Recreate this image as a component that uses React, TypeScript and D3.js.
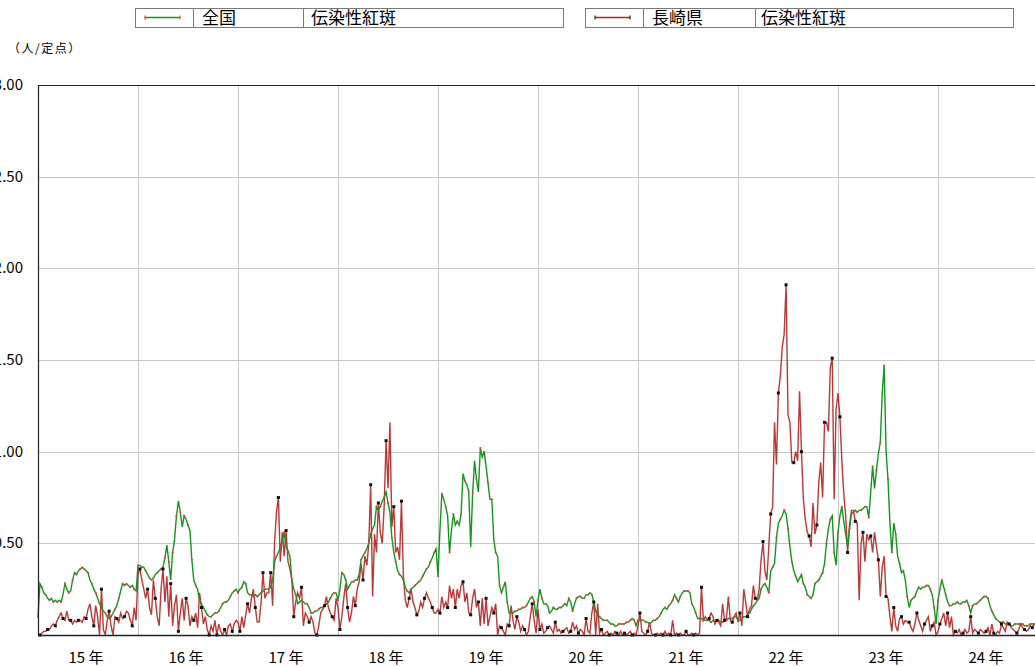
import React from "react";
import * as d3 from "d3";

// ---- Data (weekly, 52 weeks per year) ----
const years = ["15", "16", "17", "18", "19", "20", "21", "22", "23", "24"];
const yTicks = [0.5, 1.0, 1.5, 2.0, 2.5, 3.0];

const national2015 = [0.10,0.28,0.26,0.23,0.22,0.20,0.19,0.20,0.18,0.19,0.18,0.19,0.18,0.22,0.28,0.25,0.23,0.24,0.30,0.34,0.33,0.35,0.36,0.37,0.36,0.35,0.34,0.30,0.28,0.25,0.23,0.20,0.17,0.15,0.13,0.12,0.10,0.09,0.10,0.12,0.14,0.16,0.20,0.24,0.28,0.27,0.28,0.27,0.26,0.27,0.25,0.24];
const national2016 = [0.38,0.38,0.37,0.37,0.35,0.33,0.31,0.30,0.31,0.33,0.34,0.35,0.36,0.37,0.42,0.49,0.40,0.30,0.45,0.52,0.65,0.73,0.67,0.59,0.65,0.63,0.60,0.57,0.41,0.30,0.27,0.25,0.19,0.17,0.15,0.13,0.11,0.10,0.10,0.11,0.12,0.12,0.13,0.15,0.17,0.18,0.18,0.19,0.21,0.23,0.24,0.25];
const national2017 = [0.23,0.25,0.26,0.29,0.28,0.23,0.22,0.22,0.21,0.22,0.21,0.22,0.23,0.24,0.25,0.25,0.25,0.26,0.30,0.40,0.43,0.45,0.48,0.51,0.56,0.48,0.46,0.43,0.30,0.25,0.22,0.17,0.18,0.19,0.18,0.17,0.17,0.15,0.12,0.12,0.13,0.13,0.14,0.15,0.15,0.16,0.17,0.18,0.20,0.22,0.23,0.23];
const national2018 = [0.19,0.25,0.34,0.33,0.30,0.25,0.27,0.29,0.29,0.30,0.30,0.33,0.41,0.43,0.45,0.47,0.50,0.55,0.58,0.60,0.70,0.68,0.70,0.73,0.75,0.78,0.72,0.67,0.53,0.45,0.40,0.35,0.33,0.32,0.30,0.26,0.24,0.23,0.25,0.26,0.27,0.28,0.29,0.30,0.32,0.34,0.36,0.37,0.40,0.42,0.45,0.47];
const national2019 = [0.32,0.57,0.77,0.74,0.70,0.65,0.45,0.57,0.66,0.60,0.62,0.60,0.66,0.88,0.84,0.82,0.78,0.48,0.77,0.95,0.85,0.78,1.02,0.97,1.00,0.92,0.83,0.74,0.74,0.52,0.45,0.43,0.27,0.23,0.26,0.29,0.18,0.12,0.12,0.12,0.13,0.13,0.14,0.14,0.15,0.15,0.16,0.18,0.20,0.21,0.18,0.10];
const national2020 = [0.19,0.25,0.20,0.17,0.17,0.16,0.12,0.13,0.15,0.14,0.14,0.15,0.15,0.16,0.17,0.16,0.20,0.18,0.13,0.17,0.20,0.21,0.21,0.20,0.20,0.22,0.22,0.23,0.22,0.18,0.13,0.11,0.10,0.09,0.08,0.08,0.08,0.07,0.06,0.06,0.05,0.05,0.06,0.06,0.06,0.06,0.07,0.07,0.08,0.09,0.08,0.05];
const national2021 = [0.08,0.08,0.08,0.08,0.07,0.07,0.06,0.07,0.08,0.08,0.09,0.10,0.12,0.14,0.15,0.14,0.16,0.17,0.19,0.22,0.20,0.18,0.21,0.23,0.24,0.24,0.24,0.23,0.17,0.15,0.12,0.09,0.09,0.09,0.08,0.08,0.08,0.08,0.07,0.08,0.07,0.08,0.08,0.07,0.07,0.08,0.08,0.09,0.09,0.09,0.10,0.10];
const national2022 = [0.08,0.08,0.09,0.10,0.10,0.11,0.12,0.14,0.16,0.17,0.19,0.20,0.25,0.27,0.28,0.26,0.23,0.35,0.37,0.39,0.53,0.61,0.63,0.65,0.68,0.66,0.58,0.48,0.40,0.35,0.32,0.29,0.31,0.33,0.28,0.26,0.22,0.21,0.20,0.22,0.28,0.29,0.30,0.32,0.34,0.39,0.50,0.58,0.63,0.65,0.45,0.38];
const national2023 = [0.56,0.65,0.70,0.62,0.55,0.48,0.58,0.66,0.67,0.68,0.67,0.68,0.68,0.69,0.70,0.70,0.64,0.78,0.92,0.80,0.90,0.99,1.05,1.32,1.47,1.00,0.85,0.61,0.45,0.61,0.55,0.43,0.39,0.34,0.35,0.30,0.21,0.15,0.19,0.20,0.21,0.24,0.26,0.25,0.26,0.26,0.27,0.27,0.25,0.22,0.15,0.06];
const national2024 = [0.19,0.25,0.30,0.26,0.22,0.18,0.16,0.16,0.17,0.17,0.18,0.17,0.17,0.18,0.18,0.19,0.16,0.12,0.16,0.17,0.17,0.18,0.19,0.20,0.21,0.21,0.20,0.16,0.13,0.11,0.09,0.08,0.07,0.07,0.07,0.06,0.06,0.06,0.05,0.05,0.06,0.06,0.06,0.06,0.06,0.05,0.05,0.05,0.06,0.06,0.06,0.06];

const nagasaki2015 = [0.00,0.00,0.01,0.02,0.02,0.03,0.03,0.05,0.06,0.05,0.08,0.10,0.12,0.09,0.08,0.13,0.08,0.08,0.06,0.08,0.07,0.08,0.08,0.07,0.10,0.09,0.14,0.17,0.10,0.05,0.16,0.10,0.00,0.25,0.03,0.00,0.08,0.13,0.05,0.00,0.10,0.09,0.07,0.12,0.09,0.10,0.13,0.12,0.08,0.05,0.15,0.08];
const nagasaki2016 = [0.33,0.36,0.30,0.25,0.20,0.25,0.15,0.11,0.30,0.20,0.10,0.05,0.25,0.36,0.18,0.32,0.10,0.28,0.05,0.16,0.22,0.02,0.12,0.20,0.08,0.20,0.16,0.05,0.10,0.08,0.12,0.04,0.23,0.15,0.06,0.10,0.03,0.00,0.05,0.02,0.08,0.00,0.06,0.02,0.00,0.03,0.00,0.05,0.06,0.02,0.06,0.08];
const nagasaki2017 = [0.07,0.02,0.10,0.04,0.11,0.17,0.12,0.20,0.25,0.15,0.07,0.07,0.18,0.34,0.20,0.23,0.23,0.34,0.16,0.50,0.67,0.75,0.40,0.56,0.43,0.57,0.40,0.36,0.30,0.10,0.18,0.23,0.20,0.26,0.05,0.12,0.10,0.07,0.10,0.07,0.01,0.00,0.05,0.12,0.14,0.16,0.21,0.15,0.12,0.10,0.08,0.20];
const nagasaki2018 = [0.15,0.03,0.10,0.20,0.28,0.15,0.07,0.12,0.21,0.16,0.25,0.29,0.39,0.30,0.43,0.38,0.50,0.82,0.21,0.55,0.45,0.72,0.56,0.50,0.70,1.06,0.80,1.16,0.59,0.70,0.45,0.48,0.41,0.73,0.32,0.19,0.15,0.20,0.25,0.18,0.15,0.11,0.13,0.18,0.15,0.20,0.23,0.20,0.18,0.15,0.12,0.12];
const nagasaki2019 = [0.14,0.12,0.21,0.15,0.18,0.15,0.27,0.20,0.25,0.15,0.25,0.20,0.27,0.29,0.18,0.23,0.12,0.11,0.20,0.25,0.15,0.18,0.05,0.20,0.06,0.20,0.05,0.10,0.15,0.12,0.17,0.00,0.05,0.04,0.02,0.00,0.06,0.05,0.16,0.08,0.03,0.10,0.07,0.02,0.05,0.03,0.00,0.02,0.10,0.17,0.08,0.01];
const nagasaki2020 = [0.14,0.03,0.06,0.01,0.02,0.04,0.05,0.03,0.01,0.07,0.02,0.03,0.01,0.02,0.03,0.04,0.01,0.02,0.07,0.03,0.05,0.01,0.03,0.02,0.00,0.09,0.02,0.01,0.12,0.18,0.00,0.17,0.01,0.03,0.00,0.01,0.02,0.00,0.01,0.00,0.02,0.01,0.00,0.02,0.00,0.01,0.00,0.01,0.02,0.00,0.01,0.00];
const nagasaki2021 = [0.05,0.12,0.02,0.01,0.00,0.02,0.07,0.01,0.00,0.00,0.01,0.00,0.01,0.00,0.02,0.00,0.01,0.00,0.08,0.00,0.01,0.00,0.01,0.00,0.00,0.02,0.00,0.00,0.01,0.00,0.01,0.00,0.01,0.26,0.08,0.10,0.08,0.09,0.12,0.10,0.06,0.08,0.07,0.05,0.17,0.08,0.09,0.21,0.08,0.07,0.10,0.12];
const nagasaki2022 = [0.07,0.12,0.05,0.25,0.18,0.10,0.14,0.16,0.27,0.20,0.19,0.25,0.41,0.51,0.35,0.30,0.48,0.66,0.70,1.16,0.93,1.32,1.41,1.57,1.64,1.91,1.20,1.16,0.94,0.94,1.00,0.95,1.33,1.00,0.74,0.63,0.56,0.54,0.48,0.72,0.55,0.60,0.83,0.94,0.75,1.16,1.16,1.11,1.46,1.51,0.74,1.23];
const nagasaki2023 = [1.32,1.19,0.95,0.77,0.65,0.45,0.60,0.68,0.68,0.62,0.61,0.19,0.50,0.56,0.40,0.55,0.52,0.54,0.45,0.56,0.48,0.41,0.21,0.37,0.43,0.21,0.20,0.10,0.02,0.15,0.05,0.02,0.09,0.10,0.06,0.08,0.07,0.07,0.04,0.02,0.06,0.12,0.08,0.05,0.02,0.06,0.08,0.10,0.02,0.05,0.07,0.00];
const nagasaki2024 = [0.02,0.06,0.09,0.12,0.05,0.12,0.04,0.10,0.00,0.02,0.01,0.03,0.00,0.01,0.03,0.01,0.02,0.10,0.01,0.03,0.02,0.01,0.03,0.02,0.01,0.02,0.04,0.00,0.06,0.01,0.00,0.02,0.01,0.06,0.04,0.02,0.07,0.06,0.04,0.03,0.02,0.01,0.03,0.06,0.04,0.03,0.02,0.03,0.05,0.04,0.06,0.05];

const national = [national2015, national2016, national2017, national2018, national2019, national2020, national2021, national2022, national2023, national2024].flat();
const nagasaki = [nagasaki2015, nagasaki2016, nagasaki2017, nagasaki2018, nagasaki2019, nagasaki2020, nagasaki2021, nagasaki2022, nagasaki2023, nagasaki2024].flat();

const WEEKS = 52;
const W = 1035, H = 667;
const L = 38, R = 1038, T = 85, B = 635;

const GREEN = "#14961e";
const RED = "#b02424";
const JP = "'Noto Sans CJK JP', 'Noto Sans', sans-serif";

export default function App() {
  const x = d3.scaleLinear().domain([0, years.length * WEEKS]).range([L, R]);
  const y = d3.scaleLinear().domain([0, 3]).range([B, T]);
  const line = d3.line<number>().x((_, i) => x(i)).y((d) => y(d));
  const yearEdges = d3.range(1, years.length).map((k) => k * WEEKS);

  return (
    <div style={{ position: "absolute", left: 0, top: 0, width: W, height: H, overflow: "hidden", background: "#fff" }}>
      <svg width={W} height={H} style={{ display: "block", fontFamily: JP }}>
        {/* legend */}
        <g>
          <rect x={135.5} y={8.5} width={428} height={19} fill="#fff" stroke="#7a7a7a" />
          <line x1={193.5} x2={193.5} y1={8.5} y2={27.5} stroke="#7a7a7a" />
          <line x1={303.5} x2={303.5} y1={8.5} y2={27.5} stroke="#7a7a7a" />
          <line x1={145} x2={180} y1={17.5} y2={17.5} stroke={GREEN} strokeWidth={1.4} />
          <line x1={145} x2={145} y1={15.5} y2={19.5} stroke="#d03030" />
          <line x1={180} x2={180} y1={15.5} y2={19.5} stroke="#d03030" />
          <text x={202} y={24} fontSize={17}>全国</text>
          <text x={311} y={24} fontSize={17}>伝染性紅斑</text>

          <rect x={585.5} y={8.5} width={428} height={19} fill="#fff" stroke="#7a7a7a" />
          <line x1={643.5} x2={643.5} y1={8.5} y2={27.5} stroke="#7a7a7a" />
          <line x1={755.5} x2={755.5} y1={8.5} y2={27.5} stroke="#7a7a7a" />
          <line x1={595} x2={630} y1={17.5} y2={17.5} stroke={RED} strokeWidth={1.4} />
          <line x1={595} x2={595} y1={15.5} y2={19.5} stroke="#000" />
          <line x1={630} x2={630} y1={15.5} y2={19.5} stroke="#000" />
          <text x={652} y={24} fontSize={17}>長崎県</text>
          <text x={761} y={24} fontSize={17}>伝染性紅斑</text>
        </g>

        <text x={8} y={53} fontSize={12} letterSpacing={1.5}>（人/定点）</text>

        {/* grid */}
        {yTicks.slice(0, -1).map((v) => (
          <line key={"h" + v} x1={L} x2={W} y1={Math.round(y(v)) + 0.5} y2={Math.round(y(v)) + 0.5} stroke="#c8c8c8" />
        ))}
        {yearEdges.map((w) => (
          <line key={"v" + w} x1={Math.round(x(w)) + 0.5} x2={Math.round(x(w)) + 0.5} y1={T} y2={B} stroke="#c8c8c8" />
        ))}

        {/* y labels (cut off at the left edge as in the original) */}
        {yTicks.map((v) => (
          <text key={"yl" + v} x={23} y={y(v) + 5} fontSize={15} textAnchor="end">{v.toFixed(2)}</text>
        ))}
        {/* x labels */}
        {years.map((yr, k) => (
          <text key={"xl" + yr} x={x(k * WEEKS + WEEKS / 2) - 2} y={663} fontSize={15} textAnchor="middle">{yr + " 年"}</text>
        ))}

        {/* series */}
        <path d={line(nagasaki) || ""} fill="none" stroke={RED} strokeWidth={1.4} strokeOpacity={0.9} />
        <path d={line(national) || ""} fill="none" stroke={GREEN} strokeWidth={1.4} />
        {national.map((d, i) => i % 2 === 0 ? (
          <circle key={"nm" + i} cx={x(i)} cy={y(d)} r={1} fill="#e04040" />
        ) : null)}
        {nagasaki.map((d, i) => i % 4 === 1 ? (
          <rect key={"km" + i} x={x(i) - 1.5} y={y(d) - 1.5} width={3} height={3} fill="#111" />
        ) : null)}

        {/* frame */}
        <line x1={L + 0.5} x2={L + 0.5} y1={T} y2={B + 1} stroke="#222" strokeWidth={1.2} />
        <line x1={L} x2={W} y1={T + 0.5} y2={T + 0.5} stroke="#222" strokeWidth={1.2} />
        <line x1={L} x2={W} y1={B + 0.5} y2={B + 0.5} stroke="#222" strokeWidth={1.5} />
      </svg>
    </div>
  );
}
